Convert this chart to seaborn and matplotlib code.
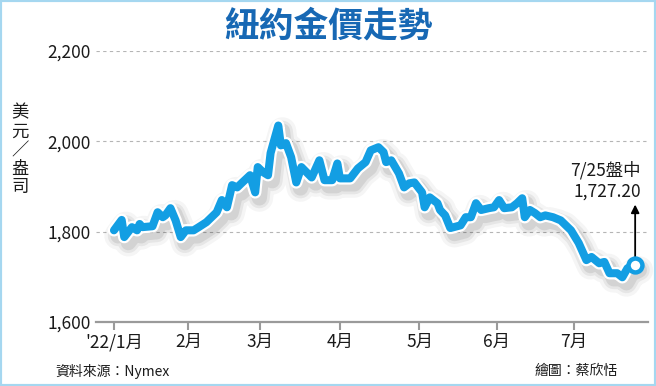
"""New York gold price trend, Jan - Jul 2022."""

import matplotlib

matplotlib.use("Agg")
import matplotlib.patheffects as pe
import matplotlib.pyplot as plt
import pandas as pd
import seaborn as sns
from matplotlib.patches import Rectangle

# ─── Data ─────────────────────────────────────────────────────────────────────

dates = [
    "2022-01-03", "2022-01-06", "2022-01-07", "2022-01-10", "2022-01-12",
    "2022-01-13", "2022-01-14", "2022-01-18", "2022-01-20", "2022-01-22",
    "2022-01-23", "2022-01-25", "2022-01-27", "2022-01-29", "2022-01-31",
    "2022-02-03", "2022-02-05", "2022-02-08", "2022-02-10", "2022-02-12",
    "2022-02-14", "2022-02-16", "2022-02-18", "2022-02-20", "2022-02-22",
    "2022-02-25", "2022-02-27", "2022-02-28",
    "2022-03-02", "2022-03-04", "2022-03-05", "2022-03-08", "2022-03-09",
    "2022-03-11", "2022-03-13", "2022-03-15", "2022-03-17", "2022-03-21",
    "2022-03-24", "2022-03-26", "2022-03-29", "2022-03-31",
    "2022-04-01", "2022-04-05", "2022-04-08", "2022-04-11", "2022-04-13",
    "2022-04-16", "2022-04-18", "2022-04-19", "2022-04-21", "2022-04-24",
    "2022-04-26", "2022-04-28", "2022-04-30",
    "2022-05-03", "2022-05-04", "2022-05-06", "2022-05-09", "2022-05-10",
    "2022-05-12", "2022-05-14", "2022-05-18", "2022-05-20", "2022-05-22",
    "2022-05-24", "2022-05-26", "2022-05-29", "2022-05-31",
    "2022-06-02", "2022-06-04", "2022-06-07", "2022-06-09", "2022-06-11",
    "2022-06-12", "2022-06-14", "2022-06-16", "2022-06-18", "2022-06-20",
    "2022-06-23", "2022-06-26", "2022-06-30",
    "2022-07-03", "2022-07-06", "2022-07-08", "2022-07-11", "2022-07-13",
    "2022-07-15", "2022-07-18", "2022-07-20", "2022-07-22", "2022-07-25",
]
prices = [
    1803, 1826, 1788, 1810, 1803,
    1817, 1810, 1812, 1843, 1832,
    1836, 1852, 1825, 1788, 1803,
    1803, 1810, 1821, 1832, 1843,
    1870, 1854, 1903, 1898, 1909,
    1925, 1887, 1943,
    1932, 1925, 1974, 2035, 1991,
    1996, 1965, 1909, 1943, 1920,
    1958, 1914, 1914, 1951,
    1918, 1918, 1940, 1954, 1980,
    1987, 1976, 1954, 1958, 1929,
    1898, 1907, 1909,
    1887, 1854, 1876, 1863, 1848,
    1836, 1808, 1814, 1832, 1832,
    1863, 1848, 1852, 1854,
    1870, 1852, 1854, 1863, 1874,
    1832, 1848, 1841, 1832, 1836,
    1832, 1825, 1803,
    1775, 1737, 1744, 1730, 1733,
    1708, 1708, 1699, 1719, 1727.2,
]

month_ticks = ["2022-01-03", "2022-02-01", "2022-03-01", "2022-04-01",
               "2022-05-02", "2022-06-01", "2022-07-01"]
month_labels = ["'22/1月", "2月", "3月", "4月", "5月", "6月", "7月"]
y_ticks = [1600, 1800, 2000, 2200]

BLUE = "#139ee3"
TITLE_BLUE = "#1768b4"
GREY = "#9a9a9a"

# ─── Plot ─────────────────────────────────────────────────────────────────────

sns.set_theme(style="white")
plt.rcParams["font.family"] = ["Noto Sans CJK TC", "DejaVu Sans"]

df = pd.DataFrame({"date": pd.to_datetime(dates), "price": prices})

fig = plt.figure(figsize=(6.56, 3.86), dpi=100)
ax = fig.add_axes([96 / 656, 64 / 386, 552 / 656, 271 / 386])

sns.lineplot(data=df, x="date", y="price", ax=ax, color=BLUE, linewidth=5.8,
             solid_joinstyle="round", solid_capstyle="round", zorder=4)
line = ax.lines[0]
line.set_clip_on(False)
line.set_path_effects([
    pe.Stroke(linewidth=20, foreground="#000000", alpha=0.04, offset=(3, -4)),
    pe.Stroke(linewidth=15, foreground="#000000", alpha=0.06, offset=(3, -4)),
    pe.Stroke(linewidth=11, foreground="#000000", alpha=0.08, offset=(3, -4)),
    pe.Stroke(linewidth=9, foreground="white"),
    pe.Normal(),
])

last = df.iloc[-1]
ax.scatter([last["date"]], [last["price"]], s=100, facecolor="white",
           edgecolor=BLUE, linewidth=3.2, zorder=6, clip_on=False)
ax.annotate("", xy=(last["date"], 1860), xytext=(last["date"], 1742),
            arrowprops=dict(arrowstyle="-|>", color="black", lw=1.3,
                            mutation_scale=12, shrinkA=0, shrinkB=0),
            zorder=5)
fig.text(641 / 656, 1 - 201 / 386, "7/25盤中\n1,727.20", ha="right",
         va="bottom", fontsize=12.5, color="#1a1a1a", linespacing=1.25)

ax.set_ylim(1600, 2200)
ax.set_xlim(pd.Timestamp("2021-12-27"), pd.Timestamp("2022-07-30"))
ax.set_yticks(y_ticks)
ax.set_yticklabels([f"{v:,}" for v in y_ticks])
ax.set_xticks(pd.to_datetime(month_ticks))
ax.set_xticklabels(month_labels)
ax.set_xlabel("")
ax.set_ylabel("")

ax.yaxis.grid(True, linestyle=(0, (3, 3)), color="#b5b5b5", linewidth=0.8)
ax.xaxis.grid(False)
for side in ("top", "right", "left"):
    ax.spines[side].set_visible(False)
ax.spines["bottom"].set_color(GREY)
ax.spines["bottom"].set_linewidth(1.6)
ax.tick_params(axis="x", direction="out", length=6, width=1.5, color=GREY,
               labelsize=12.5, labelcolor="#1a1a1a", pad=2, bottom=True)
ax.tick_params(axis="y", length=0, labelsize=12.5, labelcolor="#1a1a1a", pad=4)

fig.text(328 / 656, 1 - 26 / 386, "紐約金價走勢", ha="center", va="center",
         fontsize=25, fontweight="bold", color=TITLE_BLUE)
fig.text(20 / 656, 1 - 150 / 386, "美\n元\n／\n盎\n司", ha="center",
         va="center", fontsize=12.5, color="#1a1a1a", linespacing=1.05)
fig.text(55 / 656, 1 - 371 / 386, "資料來源：Nymex", ha="left",
         va="center", fontsize=10, color="#1a1a1a")
fig.text(618 / 656, 1 - 371 / 386, "繪圖：蔡欣恬", ha="right",
         va="center", fontsize=10, color="#1a1a1a")

fig.add_artist(Rectangle((0, 0), 1, 1, transform=fig.transFigure, fill=False,
                         edgecolor="#a5d7f0", linewidth=3))

fig.savefig("out.png", dpi=100)
plt.close(fig)
